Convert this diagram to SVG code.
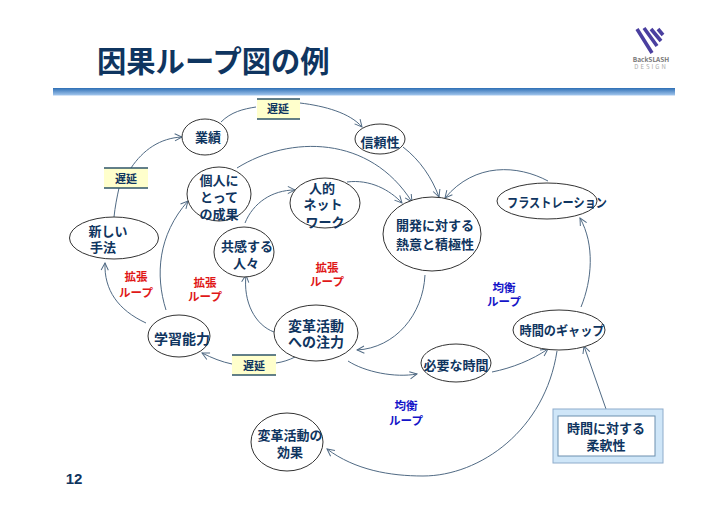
<svg xmlns="http://www.w3.org/2000/svg" width="728" height="515" viewBox="0 0 728 515">
<style>
text{font-family:"Noto Sans CJK JP","Liberation Sans",sans-serif;font-weight:700;text-anchor:middle}
.n{font-size:13px;fill:#0f3560}
.m{font-size:14px;fill:#0f3560}
.t{font-size:29.3px;fill:#0f3560;text-anchor:start}
.d{font-size:11px;fill:#0f3560}
.r{font-size:11.5px;fill:#e01818}
.b{font-size:11.5px;fill:#1414c8}
ellipse{fill:#fff;stroke:#333;stroke-width:1}
.y{fill:#ffffcc}
.yl{stroke:#2f5568;stroke-width:1.5}
#connectors path{fill:none;stroke:#506a84;stroke-width:1}
.a{marker-end:url(#arr)}
</style>
<defs>
<marker id="arr" viewBox="0 0 10 10" refX="9" refY="5" markerWidth="9" markerHeight="9" markerUnits="userSpaceOnUse" orient="auto">
<path d="M1 1L9 5L1 9" fill="none" stroke="#506a84" stroke-width="1.1"/>
</marker>
<linearGradient id="band" x1="0" y1="0" x2="0" y2="1"><stop offset="0" stop-color="#2e6fb5"/><stop offset="1" stop-color="#a5c8ee"/></linearGradient>
</defs>
<rect width="728" height="515" fill="#fff"/>
<text class="t" x="97" y="72">因果ループ図の例</text>
<rect x="53" y="88" width="622" height="7.5" fill="url(#band)"/>
<g id="logo">
<path d="M637 29L652 53M644 28L657 46M651 29L661 41M658 29L663 35" stroke="#4a3f9f" stroke-width="3.6" fill="none"/>
<text font-size="6.5" fill="#777"><tspan x="651" y="62">BackSLASH</tspan><tspan x="651" y="68.5" font-size="6" fill="#aaa" letter-spacing="2" font-weight="400">DESIGN</tspan></text>
</g>
<g id="connectors">
<path d="M221 122C231 112 243 109 256 107"/>
<path class="a" d="M300 103C325 106 350 113 362 127"/>
<path d="M114 217C115 207 117 197 119 188"/>
<path class="a" d="M131 168C143 150 160 138 182 137"/>
<path class="a" d="M146 323C118 310 104 290 105 263"/>
<path class="a" d="M166 310C155 275 158 235 188 201"/>
<path class="a" d="M274 332C255 325 243 302 246 275"/>
<path class="a" d="M237 168C290 135 370 135 412 202"/>
<path class="a" d="M347 182C370 179 390 190 402 203"/>
<path class="a" d="M403 147C420 160 432 178 439 197"/>
<path class="a" d="M245 223C253 203 272 190 295 190"/>
<path class="a" d="M425 275C423 315 395 348 357 350"/>
<path class="a" d="M348 361C365 372 395 378 417 374"/>
<path class="a" d="M492 372C512 368 532 360 548 349"/>
<path class="a" d="M581 307C592 280 595 245 580 218"/>
<path class="a" d="M557 351C545 430 480 476 423 476C390 476 355 470 327 449"/>
<path class="a" d="M606 409L584 346"/>
<path class="a" d="M548 181C518 165 475 162 445 198"/>
<path class="a" d="M232 364C222 362 212 358 202 353"/>
<path d="M295 357C289 360 283 362 276 363"/>
</g>
<g id="delay-top"><rect class="y" x="257" y="99" width="43" height="20"/><path class="yl" d="M257 99H300M257 119H300"/><text class="d" x="278" y="113">遅延</text></g>
<g id="delay-left"><rect class="y" x="104" y="168" width="44" height="20"/><path class="yl" d="M104 168H148M104 188H148"/><text class="d" x="126" y="183">遅延</text></g>
<g id="delay-bottom"><rect class="y" x="232" y="355" width="44" height="20"/><path class="yl" d="M232 355H276M232 375H276"/><text class="d" x="254" y="370">遅延</text></g>
<g id="n-gyoseki"><ellipse cx="205" cy="137" rx="23" ry="18"/><text class="n" x="208" y="142">業績</text></g>
<g id="n-shinrai"><ellipse cx="380" cy="139" rx="25" ry="15"/><text class="n" x="380" y="147">信頼性</text></g>
<g id="n-kojin"><ellipse cx="219" cy="194" rx="32" ry="27"/><text class="n"><tspan x="219" y="185">個人に</tspan><tspan x="219" y="202">とって</tspan><tspan x="219" y="219">の成果</tspan></text></g>
<g id="n-jinteki"><ellipse cx="325" cy="203" rx="35" ry="25"/><text class="n"><tspan x="322" y="193">人的</tspan><tspan x="323" y="209">ネット</tspan><tspan x="325" y="227">ワーク</tspan></text></g>
<g id="n-atarashii"><ellipse cx="114" cy="238" rx="44.5" ry="21"/><text class="n"><tspan x="108" y="236">新しい</tspan><tspan x="103" y="252">手法</tspan></text></g>
<g id="n-kyokan"><ellipse cx="244" cy="252" rx="30" ry="25"/><text class="n"><tspan x="247" y="251">共感する</tspan><tspan x="246" y="268">人々</tspan></text></g>
<g id="n-kaihatsu"><ellipse cx="432" cy="234" rx="49" ry="37"/><text class="n"><tspan x="435" y="230">開発に対する</tspan><tspan x="435" y="249">熱意と積極性</tspan></text></g>
<g id="n-frustration"><ellipse cx="547" cy="201" rx="50" ry="18"/><text class="n" x="557" y="207" textLength="100" lengthAdjust="spacingAndGlyphs">フラストレーション</text></g>
<g id="n-gakushu"><ellipse cx="179" cy="336" rx="31" ry="21"/><text class="m" x="182" y="344">学習能力</text></g>
<g id="n-henkaku"><ellipse cx="316" cy="333" rx="42" ry="28"/><text class="m"><tspan x="316" y="331">変革活動</tspan><tspan x="316" y="347">への注力</tspan></text></g>
<g id="n-koka"><ellipse cx="287" cy="442" rx="36" ry="29"/><text class="n"><tspan x="290" y="440">変革活動の</tspan><tspan x="290" y="457">効果</tspan></text></g>
<g id="n-hitsuyo"><ellipse cx="456" cy="363" rx="35" ry="19"/><text class="n" x="456" y="370">必要な時間</text></g>
<g id="n-gap"><ellipse cx="559" cy="330" rx="46" ry="20"/><text class="n" x="562" y="335" textLength="85" lengthAdjust="spacingAndGlyphs">時間のギャップ</text></g>
<g id="n-flex"><rect x="553" y="409" width="110" height="54" fill="#cfe6f8" stroke="#8eaccb"/><rect x="558" y="416" width="97" height="40" fill="#fff" stroke="#6d8fae"/><text class="n"><tspan x="606" y="433">時間に対する</tspan><tspan x="606" y="450">柔軟性</tspan></text></g>
<g id="loops">
<text class="r"><tspan x="136" y="281">拡張</tspan><tspan x="136" y="297">ループ</tspan></text>
<text class="r"><tspan x="205" y="287">拡張</tspan><tspan x="205" y="301">ループ</tspan></text>
<text class="r"><tspan x="327" y="272">拡張</tspan><tspan x="327" y="286">ループ</tspan></text>
<text class="b"><tspan x="504" y="292">均衡</tspan><tspan x="504" y="306">ループ</tspan></text>
<text class="b"><tspan x="406" y="410">均衡</tspan><tspan x="406" y="425">ループ</tspan></text>
</g>
<text x="74" y="484" style="font-family:'Liberation Sans',sans-serif;font-size:15px;fill:#0f3560">12</text>
</svg>
